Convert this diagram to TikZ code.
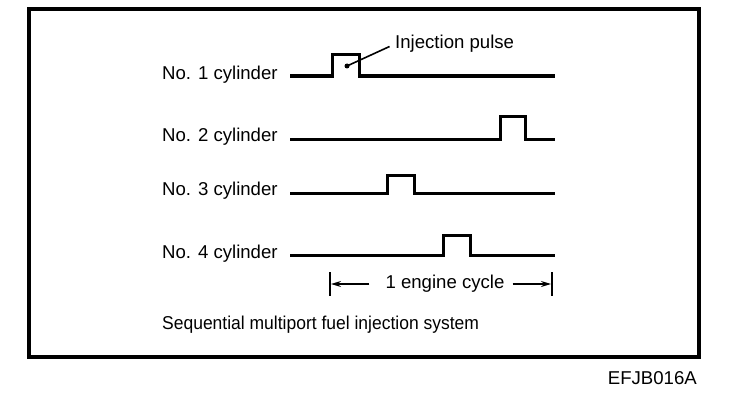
\documentclass[tikz,border=0pt]{standalone}
\usepackage{fontspec}
\setmainfont{Liberation Sans}
\usetikzlibrary{arrows.meta}
\begin{document}
\begin{tikzpicture}[x=1pt,y=-1pt,
  lbl/.style={anchor=west,inner sep=0pt,font=\fontsize{18.6}{21}\selectfont},
  sig/.style={line width=3pt,line join=miter},
  bar/.style={line width=2.4pt},
  dim/.style={line width=1.4pt,-{Stealth[length=10pt,width=6pt]}}]
\useasboundingbox (0,0) rectangle (736,404);
\draw[line width=3.2pt] (29,9) rectangle (699,357);
% labels
\node[lbl] (c1) at (162,75) {No. 1 cylinder};
\node[lbl] (c2) at (162,137) {No. 2 cylinder};
\node[lbl] (c3) at (162,191) {No. 3 cylinder};
\node[lbl] (c4) at (162,254) {No. 4 cylinder};
\node[lbl] (ip) at (395,44) {Injection pulse};
\node[lbl] (seq) at (162,325) {\scalebox{0.94}[1]{Sequential multiport fuel injection system}};
\node[lbl,anchor=east] (code) at (697,378) {EFJB016A};
% waveforms
\draw[sig] (290,76) -- (332,76) -- (332,55) -- (359,55) -- (359,76) -- (555,76);
\draw[sig] (290,139) -- (500,139) -- (500,116) -- (525,116) -- (525,139) -- (555,139);
\draw[sig] (290,193) -- (387,193) -- (387,175) -- (414,175) -- (414,193) -- (555,193);
\draw[sig] (290,255) -- (443,255) -- (443,235) -- (470,235) -- (470,255) -- (555,255);
% leader
\coordinate (dot) at (347,66);
\fill (dot) circle (2.5pt);
\draw[line width=1.6pt,shorten >=6pt] (dot) -- (ip.west);
% engine cycle
\coordinate (b1t) at (330,272); \coordinate (b1b) at (330,296);
\coordinate (b2t) at (552,272); \coordinate (b2b) at (552,296);
\draw[bar] (b1t) -- (b1b);
\draw[bar] (b2t) -- (b2b);
\node[lbl,anchor=center] (ec) at (445,284) {1 engine cycle};
\draw[dim] (ec.west) ++(-16,0) -- (331,284);
\draw[dim] (ec.east) ++(8,0) -- (551,284);
\end{tikzpicture}
\end{document}
